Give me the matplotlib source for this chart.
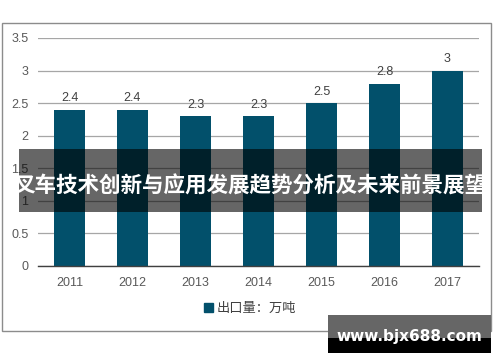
import matplotlib.pyplot as plt
import matplotlib.patches as patches

plt.rcParams['font.family'] = ['Liberation Sans', 'Noto Sans CJK SC', 'DejaVu Sans']

years = ['2011', '2012', '2013', '2014', '2015', '2016', '2017']
export_vol = [2.4, 2.4, 2.3, 2.3, 2.5, 2.8, 3]
y_ticks = [0, 0.5, 1, 1.5, 2, 2.5, 3, 3.5]
y_tick_labels = ['0', '0.5', '1', '1.5', '2', '2.5', '3', '3.5']
series_name = '出口量：万吨'
title = '叉车技术创新与应用发展趋势分析及未来前景展望'
watermark = 'www.bjx688.com'

W, H = 500, 362
fig = plt.figure(figsize=(5, 3.62), dpi=100)

# outer chart frame
fig.patches.append(patches.Rectangle((2 / W, 1 - 331 / H), 489 / W, 308 / H,
                                     transform=fig.transFigure, fill=False,
                                     ec='#8c8c8c', lw=1.0))

ax = fig.add_axes([38 / W, 1 - 266 / H, 441 / W, 228 / H])
bar_color = '#02506b'
x = range(len(years))
bars = ax.bar(x, export_vol, width=0.5, color=bar_color, zorder=3)
for b, v in zip(bars, export_vol):
    ax.text(b.get_x() + b.get_width() / 2, v + 0.08, f'{v:g}', ha='center', va='bottom',
            fontsize=9, color='#404040')

ax.set_xlim(-0.5, len(years) - 0.5)
ax.set_ylim(0, 3.5)
ax.set_yticks(y_ticks)
ax.set_yticklabels(y_tick_labels)
ax.set_xticks(list(x))
ax.set_xticklabels(years)
ax.tick_params(axis='both', length=0, labelsize=9, labelcolor='#595959')
ax.tick_params(axis='y', pad=7)
ax.tick_params(axis='x', pad=8)
ax.grid(axis='y', color='#a6a6a6', lw=0.9, zorder=0)
for s in ['top', 'right', 'left']:
    ax.spines[s].set_visible(False)
ax.spines['bottom'].set_color('#404040')
ax.spines['bottom'].set_linewidth(1.0)
ax.spines['bottom'].set_zorder(4)

# legend
leg = fig.legend([patches.Patch(color=bar_color)], [series_name], loc='center',
                 bbox_to_anchor=(250 / W, 1 - 309 / H), frameon=False, fontsize=9.5,
                 handlelength=0.7, handleheight=0.7, handletextpad=0.3)
for t in leg.get_texts():
    t.set_color('#404040')

# title band overlay
fig.patches.append(patches.Rectangle((19 / W, 1 - 212 / H), 463 / W, 63 / H,
                                     transform=fig.transFigure, fc='black', lw=0,
                                     alpha=0.6, zorder=10))
fig.text(250 / W, 1 - 186 / H, title, ha='center', va='center', color='white',
         fontsize=15.5, fontweight='bold', family=['Noto Sans CJK SC'], zorder=11)

# watermark box
fig.patches.append(patches.Rectangle((328 / W, 1 - 338 / H), 163 / W, 23 / H,
                                     transform=fig.transFigure, fc='#666666', lw=0, zorder=10))
fig.patches.append(patches.Rectangle((328 / W, 1 - 353 / H), 163 / W, 15 / H,
                                     transform=fig.transFigure, fc='black', lw=0, zorder=10))
fig.text(409 / W, 1 - 337 / H, watermark, ha='center', va='center', color='white',
         fontsize=11, fontweight='bold', family=['DejaVu Sans'], zorder=11)

plt.savefig('out.png', dpi=100)
